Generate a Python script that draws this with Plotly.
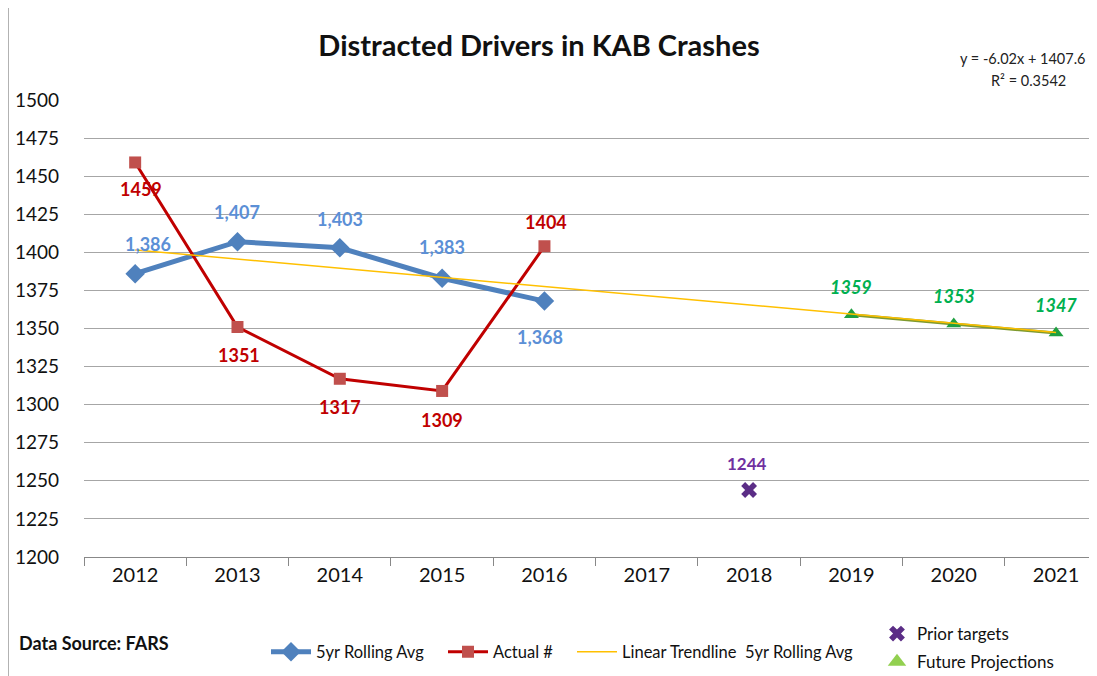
import plotly.graph_objects as go

years = ["2012", "2013", "2014", "2015", "2016", "2017", "2018", "2019", "2020", "2021"]
rolling_years = ["2012", "2013", "2014", "2015", "2016"]
rolling_avg = [1386, 1407, 1403, 1383, 1368]
actual_years = ["2012", "2013", "2014", "2015", "2016"]
actual = [1459, 1351, 1317, 1309, 1404]
prior_years = ["2018"]
prior_targets = [1244]
proj_years = ["2019", "2020", "2021"]
projections = [1359, 1353, 1347]
trend_years = ["2012", "2021"]
trend_vals = [1401.6, 1347.4]
y_ticks = [1200, 1225, 1250, 1275, 1300, 1325, 1350, 1375, 1400, 1425, 1450, 1475, 1500]

FONT = "Lato"
BLUE = "#4F81BD"
BLUE_LBL = "#5B8FD6"
RED = "#C00000"
RED_MK = "#C0504D"
GOLD = "#FFC000"
GREEN_MK = "#1FA040"
GREEN_LEG = "#92D050"
GREEN_LBL = "#00B050"
PURPLE = "#5B2D86"
PURPLE_LBL = "#7030A0"

# page body margin offsets the figure by 8px; work in screen pixels
OFF = 8
W, H = 1097 - OFF, 676 - OFF
L = 84 - OFF
T = 100 - OFF
PLOT_BOTTOM = 557 - OFF
B = H - PLOT_BOTTOM
PW, PH = W - L, PLOT_BOTTOM - T


def px_x(p):
    return (p - OFF - L) / PW


def px_y(p):
    return (PLOT_BOTTOM - (p - OFF)) / PH


fig = go.Figure()

fig.add_trace(go.Scatter(x=years, y=[None]*len(years), mode="lines", showlegend=False, hoverinfo="skip"))

fig.add_trace(go.Scatter(
    x=rolling_years, y=rolling_avg, mode="lines+markers", name="5yr Rolling Avg",
    line=dict(color=BLUE, width=5), marker=dict(symbol="diamond", size=15, color=BLUE),
    legend="legend", cliponaxis=False))
fig.add_trace(go.Scatter(
    x=actual_years, y=actual, mode="lines+markers", name="Actual #",
    line=dict(color=RED, width=3), marker=dict(symbol="square", size=12, color=RED_MK),
    legend="legend3", cliponaxis=False))
fig.add_trace(go.Scatter(
    x=proj_years, y=projections, mode="lines+markers", showlegend=False,
    line=dict(color="#7F9A2E", width=3), marker=dict(symbol="triangle-up", size=13, color=GREEN_MK),
    cliponaxis=False))
fig.add_trace(go.Scatter(
    x=trend_years, y=trend_vals, mode="lines", name="Linear Trendline  5yr Rolling Avg",
    line=dict(color=GOLD, width=1.5), legend="legend4"))
fig.add_trace(go.Scatter(
    x=prior_years, y=prior_targets, mode="markers", name="Prior targets",
    marker=dict(symbol="x", size=14, color=PURPLE), legend="legend2", legendgroup="a",
    cliponaxis=False))
fig.add_trace(go.Scatter(
    x=[None], y=[None], mode="markers", name="Future Projections",
    marker=dict(symbol="triangle-up", size=16, color=GREEN_LEG), legend="legend2", legendgroup="b"))

anns = []


def idx(x):
    return years.index(x)


blue_offsets = [(13, 30), (0, 30), (0, 29), (0, 31), (-4, -36)]
for x, v, (dx, dy) in zip(rolling_years, rolling_avg, blue_offsets):
    anns.append(dict(x=idx(x), y=v, text=f"{v:,}", showarrow=False, xshift=dx, yshift=dy,
                     font=dict(family=FONT, size=18, color=BLUE_LBL, weight="bold")))
red_offsets = [(6, -27), (2, -28), (0, -28), (0, -29), (2, 24)]
for x, v, (dx, dy) in zip(actual_years, actual, red_offsets):
    anns.append(dict(x=idx(x), y=v, text=str(v), showarrow=False, xshift=dx, yshift=dy,
                     font=dict(family=FONT, size=18, color=RED, weight="bold")))
for x, v in zip(prior_years, prior_targets):
    anns.append(dict(x=idx(x), y=v, text=str(v), showarrow=False, xshift=-2, yshift=26,
                     font=dict(family=FONT, size=17, color=PURPLE_LBL, weight="bold")))
for x, v in zip(proj_years, projections):
    anns.append(dict(x=idx(x), y=v, text=f"<i>{v}</i>", showarrow=False, yshift=28,
                     font=dict(family=FONT, size=18, color=GREEN_LBL, weight="bold")))

anns.append(dict(xref="paper", yref="paper", x=px_x(958), y=px_y(58), xanchor="left",
                 yanchor="middle", text="y = -6.02x + 1407.6", showarrow=False,
                 font=dict(family=FONT, size=14.5, color="#222")))
anns.append(dict(xref="paper", yref="paper", x=px_x(1028), y=px_y(80), xanchor="center",
                 yanchor="middle", text="R² = 0.3542", showarrow=False,
                 font=dict(family=FONT, size=14.5, color="#222")))
anns.append(dict(xref="paper", yref="paper", x=px_x(17), y=px_y(643), xanchor="left",
                 yanchor="middle", text="<b>Data Source: FARS</b>", showarrow=False,
                 font=dict(family=FONT, size=18, color="#111")))

leg_common = dict(orientation="h", xanchor="left", yanchor="middle",
                  font=dict(family=FONT, size=16.5, color="#111"), itemwidth=40,
                  bgcolor="rgba(0,0,0,0)")

fig.update_layout(
    width=W, height=H,
    margin=dict(l=L, r=0, t=T, b=B, autoexpand=False),
    paper_bgcolor="white", plot_bgcolor="white",
    font=dict(family=FONT, size=19, color="#111"),
    title=dict(text="<b>Distracted Drivers in KAB Crashes</b>", x=px_x(539), xref="paper",
               xanchor="center", y=1 - (46 - OFF) / H, yanchor="middle",
               font=dict(family=FONT, size=29, color="#111")),
    xaxis=dict(type="category", categoryorder="array", categoryarray=years,
               range=[-0.5, 9.4], tickson="boundaries", ticks="outside", ticklen=8,
               tickcolor="#888", showline=True, linecolor="#888", linewidth=1,
               showgrid=False, zeroline=False, tickfont=dict(family=FONT, size=20)),
    yaxis=dict(range=[1200, 1500], tickvals=y_ticks, showgrid=True, gridcolor="#A6A6A6",
               gridwidth=1, zeroline=False, showline=False, ticks="",
               ticklabelstandoff=24, tickfont=dict(family=FONT, size=19)),
    legend=dict(x=px_x(266), y=px_y(652), **leg_common),
    legend3=dict(x=px_x(443), y=px_y(652), **leg_common),
    legend4=dict(x=px_x(572), y=px_y(652), **leg_common),
    legend2=dict(orientation="v", x=px_x(877), y=px_y(616), xanchor="left", yanchor="top",
                 font=dict(family=FONT, size=17, color="#111"), itemwidth=30, tracegroupgap=3,
                 bgcolor="rgba(0,0,0,0)"),
    annotations=anns,
    shapes=[dict(type="line", xref="paper", yref="paper", x0=px_x(8), x1=px_x(8),
                 y0=px_y(690), y1=px_y(-10), line=dict(color="#999", width=1.5))],
    showlegend=True,
)

fig.write_html("out.html")
